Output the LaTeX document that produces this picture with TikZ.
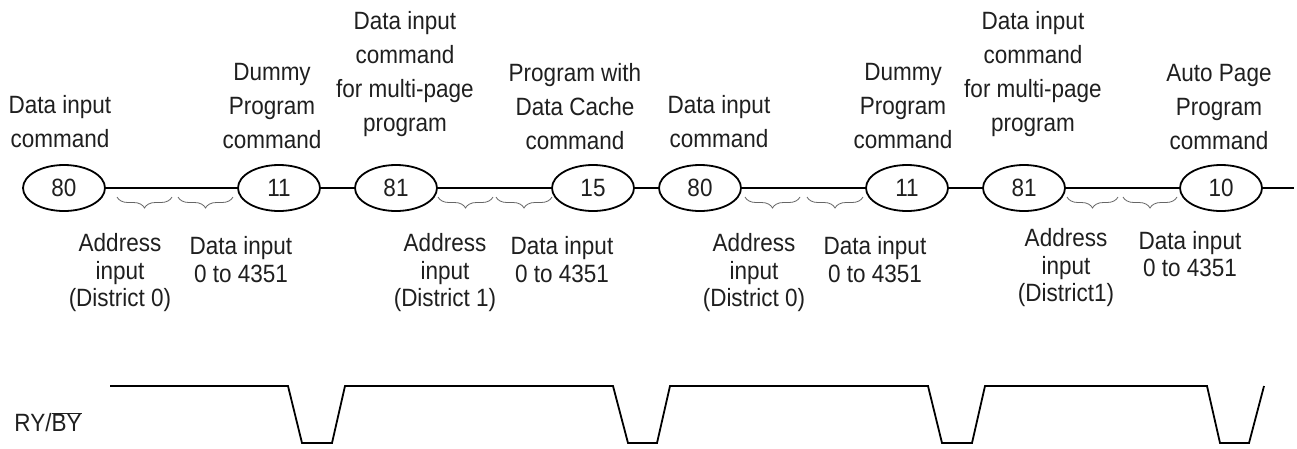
\documentclass[tikz,border=0pt]{standalone}
\usepackage{fontspec}
\setmainfont{Liberation Sans}[FakeStretch=0.9]
\usetikzlibrary{decorations.pathreplacing,shapes.geometric}
\begin{document}
\begin{tikzpicture}[x=1pt,y=-1pt,
  lbl/.style={font=\fontsize{25}{34}\selectfont, align=center, inner sep=0pt, text=black!88},
  lblb/.style={font=\fontsize{25}{27.5}\selectfont, align=center, inner sep=0pt, text=black!88},
  cmd/.style={draw, ellipse, line width=1.8pt, minimum width=82pt, minimum height=46pt, inner sep=0pt, font=\fontsize{25}{27}\selectfont, text=black!88},
  brc/.style={decorate, decoration={brace, mirror, amplitude=11pt}, draw=black!60, line width=0.8pt},
  conn/.style={line width=1.8pt},
  sig/.style={line width=1.8pt, line join=miter}]
\useasboundingbox (0,0) rectangle (1297,448);

% command ellipses
\node[cmd] (e1) at (64,188) {80};
\node[cmd] (e2) at (279,188) {11};
\node[cmd] (e3) at (396,188) {81};
\node[cmd] (e4) at (593,188) {15};
\node[cmd] (e5) at (700,188) {80};
\node[cmd] (e6) at (907,188) {11};
\node[cmd] (e7) at (1024,188) {81};
\node[cmd] (e8) at (1221,188) {10};
\coordinate (lineend) at (1294,188);

\draw[conn] (e1) -- (e2);
\draw[conn] (e2) -- (e3);
\draw[conn] (e3) -- (e4);
\draw[conn] (e4) -- (e5);
\draw[conn] (e5) -- (e6);
\draw[conn] (e6) -- (e7);
\draw[conn] (e7) -- (e8);
\draw[conn] (e8) -- (lineend);

% top labels
\node[lbl] (t1) at (60,121.5) {Data input\\command};
\node[lbl] (t2) at (272,106) {Dummy\\Program\\command};
\node[lbl] (t3) at (405,74) {Data input\\command\\for multi-page\\program};
\node[lbl] (t4) at (575,107) {Program with\\Data Cache\\command};
\node[lbl] (t5) at (719,121.5) {Data input\\command};
\node[lbl] (t6) at (903,106) {Dummy\\Program\\command};
\node[lbl] (t7) at (1033,74) {Data input\\command\\for multi-page\\program};
\node[lbl] (t8) at (1219,107) {Auto Page\\Program\\command};

% braces
\draw[brc] (117,197) -- (172,197);
\draw[brc] (178,197) -- (233,197);
\draw[brc] (438,197) -- (493,197);
\draw[brc] (496,197) -- (552,197);
\draw[brc] (745,197) -- (800,197);
\draw[brc] (807,197) -- (863,197);
\draw[brc] (1067,197) -- (1118,197);
\draw[brc] (1123,197) -- (1177,197);

% bottom labels
\node[lblb] (a1) at (120,273) {Address\\input\\(District 0)};
\node[lblb] (d1) at (241,259.5) {Data input\\0 to 4351};
\node[lblb] (a2) at (445,273) {Address\\input\\(District 1)};
\node[lblb] (d2) at (562,259.5) {Data input\\0 to 4351};
\node[lblb] (a3) at (754,273) {Address\\input\\(District 0)};
\node[lblb] (d3) at (875,259.5) {Data input\\0 to 4351};
\node[lblb] (a4) at (1066,268) {Address\\input\\(District1)};
\node[lblb] (d4) at (1190,254) {Data input\\0 to 4351};

% RY/BY signal
\node[lblb] (ry) at (48,422) {RY/$\overline{\hbox{BY}}$};
\draw[sig] (110,386) -- (288,386) -- (302,443) -- (332,443) -- (345,386)
  -- (613,386) -- (628,443) -- (657,443) -- (670,386)
  -- (928,386) -- (942,443) -- (972,443) -- (985,386)
  -- (1207,386) -- (1220,443) -- (1249,443) -- (1264,386);
\end{tikzpicture}
\end{document}
